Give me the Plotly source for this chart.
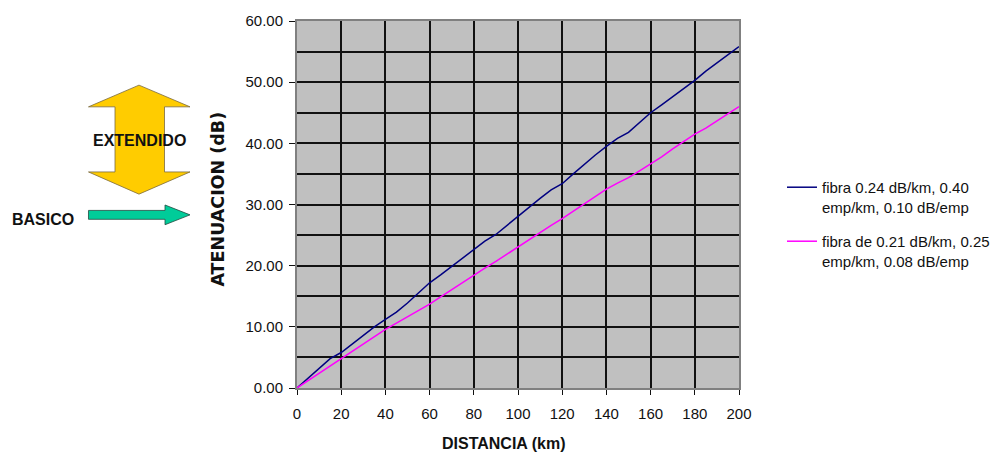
import plotly.graph_objects as go

# ---- data ----
distancia_km = [0, 5, 10, 15, 20, 25, 30, 35, 40, 45, 50, 55, 60, 65, 70, 75, 80, 85, 90, 95,
                100, 105, 110, 115, 120, 125, 130, 135, 140, 145, 150, 155, 160, 165, 170, 175,
                180, 185, 190, 195, 200]
fibra_040 = [0.0, 1.6, 3.2, 4.8, 5.8, 7.2, 8.6, 10.0, 11.2, 12.4, 13.9, 15.5, 17.2, 18.5, 19.9,
             21.3, 22.7, 24.0, 25.1, 26.6, 28.0, 29.5, 31.0, 32.4, 33.4, 35.0, 36.6, 38.1, 39.5,
             40.8, 41.8, 43.4, 45.0, 46.3, 47.6, 48.9, 50.3, 51.8, 53.1, 54.4, 55.8]
fibra_025 = [0.0, 1.2, 2.4, 3.7, 4.9, 6.0, 7.2, 8.4, 9.6, 10.6, 11.6, 12.6, 13.7, 14.9, 16.1,
             17.3, 18.5, 19.6, 20.7, 21.9, 23.1, 24.3, 25.4, 26.6, 27.7, 28.9, 30.1, 31.3, 32.5,
             33.5, 34.4, 35.5, 36.6, 37.8, 39.1, 40.3, 41.5, 42.5, 43.7, 44.8, 46.0]
series_names = ["fibra 0.24 dB/km, 0.40<br>emp/km, 0.10 dB/emp",
                "fibra de 0.21 dB/km, 0.25<br>emp/km, 0.08 dB/emp"]
x_ticks = [0, 20, 40, 60, 80, 100, 120, 140, 160, 180, 200]
y_ticks = [0, 10, 20, 30, 40, 50, 60]

W, H = 1007, 452
L, R, T, B = 297, 739, 16, 388  # plot area pixel box


def px(x):
    return (x - L) / (R - L)


def py(y):
    return (B - y) / (B - T)


def path(points):
    return "M " + " L ".join(f"{px(a):.5f},{py(b):.5f}" for a, b in points) + " Z"


FONT = "Liberation Sans, Arial, sans-serif"

fig = go.Figure()
fig.add_trace(go.Scatter(x=distancia_km, y=fibra_040, mode="lines", name=series_names[0],
                         legendgroup="g1", line=dict(color="#000080", width=1.5)))
fig.add_trace(go.Scatter(x=distancia_km, y=fibra_025, mode="lines", name=series_names[1],
                         legendgroup="g2", line=dict(color="#FF00FF", width=1.5)))

# yellow double arrow
yellow = [(139, 81), (190, 103), (164.5, 103), (164.5, 169), (190, 169), (139, 191.5),
          (88.5, 169), (115, 169), (115, 103), (88.5, 103)]
green = [(88.5, 208), (165, 208), (165, 202.5), (190, 212.5), (165, 222.5), (165, 217),
         (88.5, 217)]
shapes = [
    dict(type="path", xref="paper", yref="paper", path=path(yellow),
         fillcolor="#FFCC00", line=dict(color="#7a6a40", width=0.8), layer="above"),
    dict(type="path", xref="paper", yref="paper", path=path(green),
         fillcolor="#00CC99", line=dict(color="#204a40", width=0.8), layer="above"),
]


def ann(text, x, y, size, family=FONT, angle=0):
    return dict(text=text, x=px(x), y=py(y), xref="paper", yref="paper",
                xanchor="center", yanchor="middle", showarrow=False, textangle=angle,
                font=dict(family=family, size=size, color="#111"))


annotations = [
    ann("<b>EXTENDIDO</b>", 139.5, 137, 16),
    ann("<b>BASICO</b>", 42.5, 217, 16),
    ann("<b>ATENUACION (dB)</b>", 218, 197, 17.5, family="DejaVu Sans, sans-serif", angle=-90),
    ann("<b>DISTANCIA (km)</b>", 504, 444, 16),
]

fig.update_layout(
    width=W, height=H,
    margin=dict(l=L, r=W - R, t=T, b=H - B),
    paper_bgcolor="white", plot_bgcolor="#C0C0C0",
    font=dict(family=FONT, size=15, color="#111"),
    showlegend=True,
    legend=dict(x=px(782), y=py(168), xanchor="left", yanchor="top",
                font=dict(family=FONT, size=15, color="#111"),
                traceorder="grouped", valign="top", tracegroupgap=12,
                bgcolor="rgba(0,0,0,0)"),
    shapes=shapes, annotations=annotations,
)
fig.update_xaxes(range=[0, 200], tickvals=x_ticks, ticktext=[str(v) for v in x_ticks],
                 showgrid=True, gridcolor="#111", gridwidth=1.5, zeroline=False,
                 showline=True, linecolor="#808080", linewidth=2, mirror=True,
                 ticks="outside", ticklen=5, tickcolor="#111", ticklabelstandoff=6,
                 tickfont=dict(family=FONT, size=15, color="#111"))
fig.update_yaxes(range=[0, 60], tickvals=y_ticks, ticktext=[f"{v:.2f}" for v in y_ticks],
                 showgrid=True, gridcolor="#111", gridwidth=1.5, zeroline=False,
                 minor=dict(dtick=5, tick0=0, showgrid=True, gridcolor="#111", gridwidth=1.5,
                            ticks=""),
                 showline=True, linecolor="#808080", linewidth=2, mirror=True,
                 ticks="outside", ticklen=6, tickcolor="#111", ticklabelstandoff=3,
                 tickfont=dict(family=FONT, size=15, color="#111"))

fig.write_html("out.html")
